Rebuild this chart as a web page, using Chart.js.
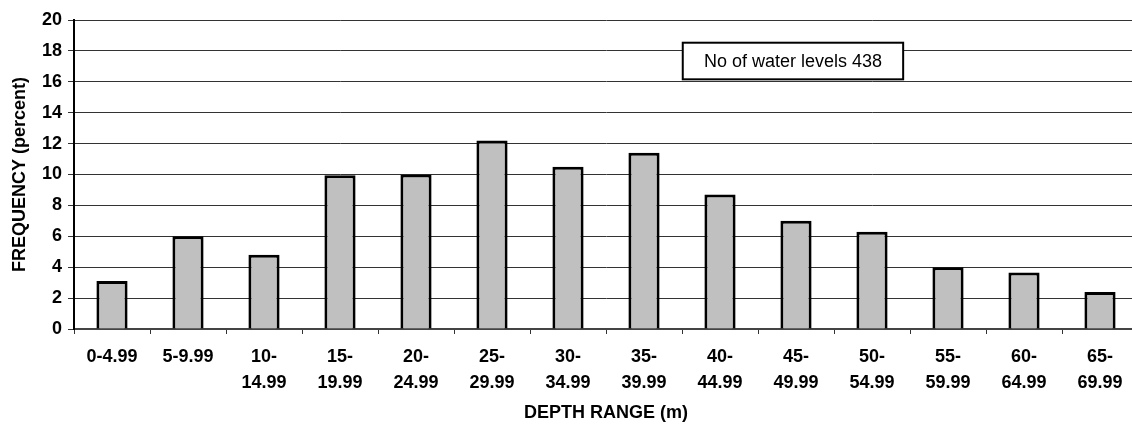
<!DOCTYPE html>
<html>
<head>
<meta charset="utf-8">
<script src="https://cdn.jsdelivr.net/npm/chart.js@4"></script>
<style>
  html, body { margin: 0; padding: 0; overflow: hidden; background: #fff; }
  #wrap { width: 1138px; height: 425px; }
</style>
</head>
<body>
<div id="wrap"><canvas id="depthChart"></canvas></div>
<script>
// depth ranges (multi-line labels as drawn under the axis)
const depthRanges = [
  ['0-4.99'], ['5-9.99'], ['10-', '14.99'], ['15-', '19.99'], ['20-', '24.99'],
  ['25-', '29.99'], ['30-', '34.99'], ['35-', '39.99'], ['40-', '44.99'],
  ['45-', '49.99'], ['50-', '54.99'], ['55-', '59.99'], ['60-', '64.99'], ['65-', '69.99']
];
// frequency in percent
const frequency = [3.1, 6.0, 4.8, 9.95, 10.0, 12.2, 10.5, 11.4, 8.7, 7.0, 6.3, 4.0, 3.65, 2.4];
const yTicks = [0, 2, 4, 6, 8, 10, 12, 14, 16, 18, 20];
const noteText = 'No of water levels 438';

const FONT = '"Liberation Sans", Arial, sans-serif';

// text box in the upper right of the plot, placed via the scales
const noteBox = {
  id: 'noteBox',
  afterDraw(chart) {
    const { ctx, scales: { x, y } } = chart;
    const left = x.getPixelForValue(7.51), right = x.getPixelForValue(10.41);
    const top = y.getPixelForValue(18.53), bottom = y.getPixelForValue(16.16);
    ctx.save();
    ctx.fillStyle = '#fff';
    ctx.fillRect(left, top, right - left, bottom - top);
    ctx.lineWidth = 2;
    ctx.strokeStyle = '#000';
    ctx.strokeRect(left, top, right - left, bottom - top);
    ctx.fillStyle = '#000';
    ctx.font = '18px ' + FONT;
    ctx.textAlign = 'center';
    ctx.textBaseline = 'middle';
    ctx.fillText(noteText, (left + right) / 2, (top + bottom) / 2 + 1);
    ctx.restore();
  }
};

new Chart(document.getElementById('depthChart'), {
  type: 'bar',
  data: {
    labels: depthRanges,
    datasets: [{
      data: frequency,
      backgroundColor: '#c0c0c0',
      borderColor: '#000',
      borderWidth: 3,
      barPercentage: 0.41,
      categoryPercentage: 1
    }]
  },
  options: {
    responsive: true,
    maintainAspectRatio: false,
    animation: false,
    layout: { padding: { top: 20, left: 0, right: 0, bottom: 0 } },
    plugins: { legend: { display: false }, tooltip: { enabled: false } },
    scales: {
      x: {
        afterFit: (s) => { s.height = 96; },
        grid: { offset: true, drawOnChartArea: false, drawTicks: true, tickLength: 5, color: '#333' },
        border: { color: '#444', width: 2 },
        ticks: {
          color: '#000', padding: 10, maxRotation: 0, autoSkip: false,
          font: { family: FONT, size: 18, weight: 'bold', lineHeight: 1.444 }
        },
        title: {
          display: true, text: 'DEPTH RANGE (m)', color: '#000',
          padding: { top: 0, bottom: 1 },
          font: { family: FONT, size: 18, weight: 'bold' }
        }
      },
      y: {
        min: 0, max: 20,
        afterFit: (s) => { s.width = 74; },
        afterBuildTicks: (s) => { s.ticks = yTicks.map(v => ({ value: v })); },
        grid: { color: '#333', lineWidth: 1, tickLength: 6 },
        border: { color: '#000', width: 2 },
        ticks: {
          color: '#000', padding: 6,
          font: { family: FONT, size: 18, weight: 'bold' }
        },
        title: {
          display: true, text: 'FREQUENCY (percent)', color: '#000',
          padding: { top: 9, bottom: 0 },
          font: { family: FONT, size: 18, weight: 'bold' }
        }
      }
    }
  },
  plugins: [noteBox]
});
</script>
</body>
</html>
